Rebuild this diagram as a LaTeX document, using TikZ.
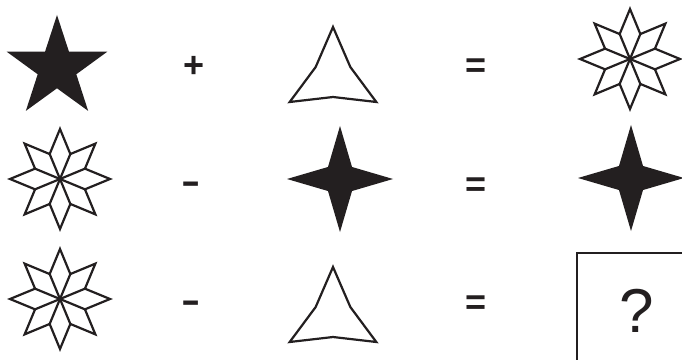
\documentclass[tikz,border=0pt]{standalone}
\usepackage{fontspec}
\setmainfont{Liberation Sans}
\definecolor{ink}{HTML}{231F20}
\newcommand\eightstar[2]{%
  \begin{scope}[shift={(#1,#2)}]
    \draw[outline] (0:50) \foreach \k in {1,...,15}{ -- ({22.5*\k}:{ifthenelse(mod(\k,2)==0,50,27)}) } -- cycle;
    \foreach \k in {1,3,...,15} \draw[spoke] (0,0) -- ({22.5*\k}:27);
  \end{scope}}
\newcommand\triastar[2]{%
  \begin{scope}[shift={(#1,#2)}]
    \draw[outline] (90:50) -- (150:20) -- (210:50) -- (270:20) -- (330:50) -- (30:20) -- cycle;
  \end{scope}}
\newcommand\fourstar[2]{%
  \begin{scope}[shift={(#1,#2)}]
    \fill[ink] (0:53) -- (45:17) -- (90:53) -- (135:17) -- (180:53) -- (225:17) -- (270:53) -- (315:17) -- cycle;
  \end{scope}}
\begin{document}
\begin{tikzpicture}[x=1pt,y=1pt,
  outline/.style={draw=ink,line width=2.2pt,line join=miter,fill=white},
  spoke/.style={draw=ink,line width=2.2pt},
  op/.style={text=ink,font=\bfseries\fontsize{36}{36}\selectfont,inner sep=0pt,anchor=base},
  qmark/.style={text=ink,font=\fontsize{62}{62}\selectfont,inner sep=0pt,anchor=base}]
\useasboundingbox (0,0) rectangle (682,359);
\clip (0,0) rectangle (682,359);
\fill[white] (0,0) rectangle (682,359);
% row 1
\begin{scope}[shift={(57,291)}]
  \fill[ink] (90:53) \foreach \k in {1,...,9}{ -- ({90+36*\k}:{ifthenelse(mod(\k,2)==0,53,20.3)}) } -- cycle;
\end{scope}
\node[op] (plus) at (194,281.9) {+};
\triastar{333}{282}
\node[op] (eq1) at (476.5,281.9) {=};
\eightstar{630}{300}
% row 2
\eightstar{60}{180}
\node[op] (minus1) at (191,165.6) {\scalebox{1.6}[1]{-}};
\fourstar{340}{180}
\node[op] (eq2) at (476.5,162.4) {=};
\fourstar{631}{181}
% row 3
\eightstar{60}{60}
\node[op] (minus2) at (191,46.1) {\scalebox{1.6}[1]{-}};
\triastar{333}{42}
\node[op] (eq3) at (476.5,44.4) {=};
\draw[ink,line width=2pt] (577,106) rectangle (720,-20);
\node[qmark] (q) at (637,26.9) {?};
\end{tikzpicture}
\end{document}
